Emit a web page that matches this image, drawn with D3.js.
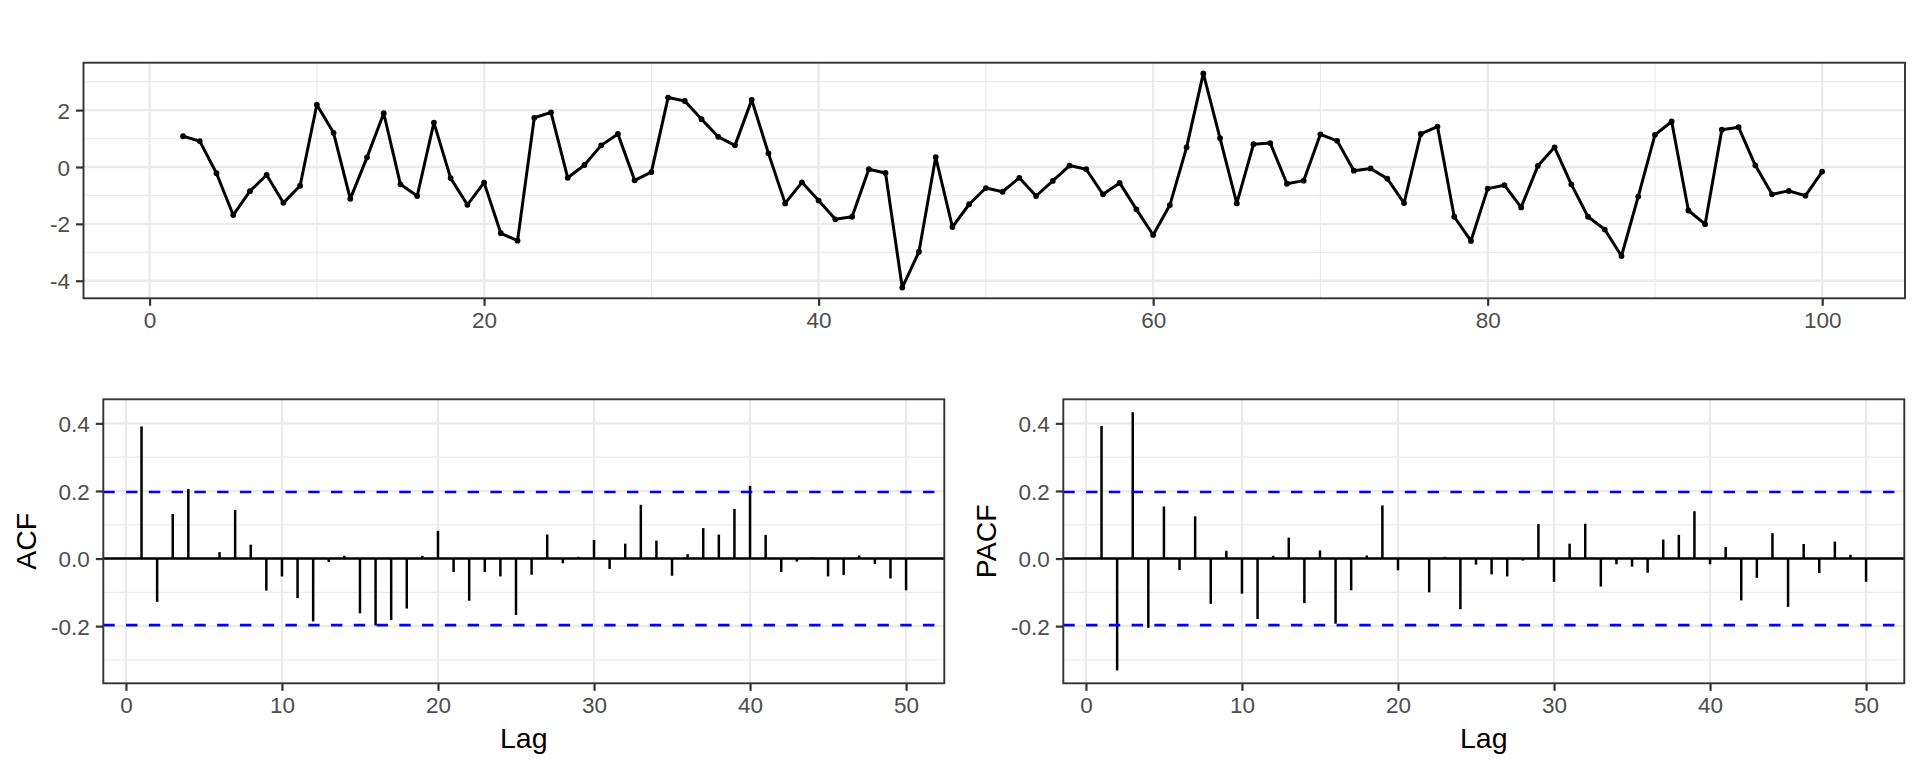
<!DOCTYPE html>
<html>
<head>
<meta charset="utf-8">
<script src="https://cdn.jsdelivr.net/npm/d3@7"></script>
<style>
  html, body { margin: 0; padding: 0; background: #fff; }
  svg { display: block; }
  text { font-family: "Liberation Sans", Arial, Helvetica, sans-serif; }
</style>
</head>
<body>
<svg id="chart" width="1920" height="768"></svg>
<script>
// ---------------- data ----------------
const tsTimeRange = [1, 100];   // series runs t = 1..100, first value missing
const tsStart = 2;
const tsValues = [
  1.08, 0.91, -0.22, -1.69, -0.85, -0.28, -1.26, -0.66, 2.19,          // t 2-10
  1.20, -1.12, 0.34, 1.89, -0.61, -1.02, 1.56, -0.39, -1.33, -0.55,    // 11-20
  -2.33, -2.59, 1.73, 1.92, -0.38, 0.07, 0.76, 1.16, -0.47, -0.18,     // 21-30
  2.44, 2.32, 1.68, 1.06, 0.76, 2.36, 0.48, -1.28, -0.54, -1.18,       // 31-40
  -1.84, -1.75, -0.08, -0.21, -4.24, -2.98, 0.35, -2.11, -1.31, -0.74, // 41-50
  -0.87, -0.38, -1.02, -0.49, 0.05, -0.08, -0.96, -0.56, -1.49, -2.39, // 51-60
  -1.34, 0.69, 3.29, 1.01, -1.28, 0.80, 0.84, -0.59, -0.48, 1.15,      // 61-70
  0.92, -0.13, -0.05, -0.41, -1.27, 1.16, 1.42, -1.75, -2.60, -0.76,   // 71-80
  -0.64, -1.42, 0.04, 0.69, -0.61, -1.75, -2.20, -3.13, -1.04, 1.13,   // 81-90
  1.60, -1.53, -2.01, 1.31, 1.40, 0.06, -0.96, -0.84, -1.01, -0.16     // 91-100
];
const tsXBreaks = [0, 20, 40, 60, 80, 100];
const tsXMinor = [10, 30, 50, 70, 90];
const tsYBreaks = [-4, -2, 0, 2];
const tsYMinor = [-3, -1, 1, 3];

const acfValues = [
  0.391, -0.128, 0.132, 0.206, 0.002, 0.019, 0.144, 0.041, -0.095, -0.053,
  -0.117, -0.186, -0.010, 0.008, -0.162, -0.198, -0.182, -0.148, 0.008, 0.082,
  -0.040, -0.125, -0.040, -0.053, -0.167, -0.048, 0.071, -0.014, 0.005, 0.055,
  -0.031, 0.044, 0.159, 0.053, -0.051, 0.013, 0.090, 0.071, 0.147, 0.215,
  0.070, -0.040, -0.009, 0.004, -0.053, -0.049, 0.009, -0.016, -0.059, -0.094
];
const pacfValues = [
  0.392, -0.331, 0.433, -0.205, 0.154, -0.034, 0.125, -0.134, 0.023, -0.104,
  -0.179, 0.008, 0.062, -0.132, 0.024, -0.193, -0.094, 0.009, 0.157, -0.035,
  -0.002, -0.100, 0.005, -0.150, -0.018, -0.047, -0.053, -0.006, 0.102, -0.069,
  0.044, 0.103, -0.083, -0.017, -0.024, -0.042, 0.056, 0.070, 0.140, -0.017,
  0.034, -0.124, -0.057, 0.075, -0.143, 0.043, -0.043, 0.050, 0.011, -0.069
];
const ciLimit = 0.197;  // 1.96 / sqrt(99)
const lagXBreaks = [0, 10, 20, 30, 40, 50];
const lagYBreaks = [-0.2, 0.0, 0.2, 0.4];
const lagYMinor = [-0.3, -0.1, 0.1, 0.3];

// ---------------- helpers ----------------
const svg = d3.select("#chart");
const GRID = "#EBEBEB", BORDER = "#333333", TICKTXT = "#4D4D4D";
const TICKFONT = 22.5, TITLEFONT = 28.5, TICKLEN = 7.5;

function expand(ext) {
  const r = ext[1] - ext[0];
  return [ext[0] - 0.05 * r, ext[1] + 0.05 * r];
}

function panel(g, box, x, y, opts) {
  const grid = g.append("g");
  (opts.yMinor || []).forEach(v => grid.append("line")
    .attr("x1", box.l).attr("x2", box.r).attr("y1", y(v)).attr("y2", y(v))
    .attr("stroke", GRID).attr("stroke-width", 1.2));
  (opts.xMinor || []).forEach(v => grid.append("line")
    .attr("y1", box.t).attr("y2", box.b).attr("x1", x(v)).attr("x2", x(v))
    .attr("stroke", GRID).attr("stroke-width", 1.2));
  opts.yBreaks.forEach(v => grid.append("line")
    .attr("x1", box.l).attr("x2", box.r).attr("y1", y(v)).attr("y2", y(v))
    .attr("stroke", GRID).attr("stroke-width", 2.4));
  opts.xBreaks.forEach(v => grid.append("line")
    .attr("y1", box.t).attr("y2", box.b).attr("x1", x(v)).attr("x2", x(v))
    .attr("stroke", GRID).attr("stroke-width", 2.4));
}

function axesAndBorder(g, box, x, y, opts) {
  const xAxis = d3.axisBottom(x).tickValues(opts.xBreaks).tickSize(TICKLEN).tickPadding(6)
    .tickFormat(opts.xFmt);
  const yAxis = d3.axisLeft(y).tickValues(opts.yBreaks).tickSize(TICKLEN).tickPadding(6)
    .tickFormat(opts.yFmt);
  const gx = g.append("g").attr("transform", `translate(0,${box.b})`).call(xAxis);
  const gy = g.append("g").attr("transform", `translate(${box.l},0)`).call(yAxis);
  [gx, gy].forEach(a => {
    a.select(".domain").remove();
    a.selectAll(".tick line").attr("stroke", BORDER).attr("stroke-width", 2.2);
    a.selectAll(".tick text").attr("fill", TICKTXT).style("font-size", TICKFONT + "px")
      .style("font-family", '"Liberation Sans", Arial, sans-serif');
  });
  gy.selectAll(".tick text").attr("dy", "0.36em");
  gx.selectAll(".tick text").attr("dy", "0.74em");
  g.append("rect").attr("x", box.l).attr("y", box.t)
    .attr("width", box.r - box.l).attr("height", box.b - box.t)
    .attr("fill", "none").attr("stroke", BORDER).attr("stroke-width", 1.9);
}

// ---------------- top panel: series ----------------
{
  const box = { l: 83.5, r: 1905, t: 62.7, b: 298.3 };
  const pts = tsValues.map((v, i) => ({ t: tsStart + i, v }));
  const x = d3.scaleLinear().domain(expand(tsTimeRange)).range([box.l, box.r]);
  const y = d3.scaleLinear().domain(expand(d3.extent(tsValues))).range([box.b, box.t]);
  const g = svg.append("g");
  panel(g, box, x, y, { xBreaks: tsXBreaks, xMinor: tsXMinor, yBreaks: tsYBreaks, yMinor: tsYMinor });
  const line = d3.line().x(d => x(d.t)).y(d => y(d.v));
  g.append("path").datum(pts).attr("d", line).attr("fill", "none")
    .attr("stroke", "#000").attr("stroke-width", 3).attr("stroke-linejoin", "round");
  g.selectAll("circle.pt").data(pts).enter().append("circle")
    .attr("cx", d => x(d.t)).attr("cy", d => y(d.v)).attr("r", 2.9).attr("fill", "#000");
  axesAndBorder(g, box, x, y, { xBreaks: tsXBreaks, yBreaks: tsYBreaks,
    xFmt: d3.format("d"), yFmt: d => (d < 0 ? "-" : "") + Math.abs(d) });
}

// ---------------- bottom panels: ACF / PACF ----------------
const lagYDomain = expand(d3.extent(acfValues.concat(pacfValues)));
function corrPanel(vals, box, label, titleX) {
  const lags = vals.map((v, i) => ({ lag: i + 1, v }));
  const x = d3.scaleLinear().domain(expand([1, vals.length])).range([box.l, box.r]);
  const y = d3.scaleLinear().domain(lagYDomain).range([box.b, box.t]);
  const g = svg.append("g");
  panel(g, box, x, y, { xBreaks: lagXBreaks, yBreaks: lagYBreaks, yMinor: lagYMinor });
  g.append("line").attr("x1", box.l).attr("x2", box.r).attr("y1", y(0)).attr("y2", y(0))
    .attr("stroke", "#000").attr("stroke-width", 2.6);
  g.selectAll("line.seg").data(lags).enter().append("line")
    .attr("x1", d => x(d.lag)).attr("x2", d => x(d.lag))
    .attr("y1", y(0)).attr("y2", d => y(d.v))
    .attr("stroke", "#000").attr("stroke-width", 2.5);
  [ciLimit, -ciLimit].forEach(c => g.append("line")
    .attr("x1", box.l).attr("x2", box.r).attr("y1", y(c)).attr("y2", y(c))
    .attr("stroke", "#0000FF").attr("stroke-width", 2.6).attr("stroke-dasharray", "11.4,11.37"));
  axesAndBorder(g, box, x, y, { xBreaks: lagXBreaks, yBreaks: lagYBreaks,
    xFmt: d3.format("d"), yFmt: d => (d < 0 ? "-" : "") + Math.abs(d).toFixed(1) });
  g.append("text").attr("x", (box.l + box.r) / 2).attr("y", 748.3)
    .attr("text-anchor", "middle").attr("fill", "#000").style("font-size", TITLEFONT + "px").text("Lag");
  g.append("text").attr("transform", `translate(${titleX},${(box.t + box.b) / 2}) rotate(-90)`)
    .attr("text-anchor", "middle").attr("fill", "#000").style("font-size", TITLEFONT + "px").text(label);
}
corrPanel(acfValues, { l: 103.3, r: 944.3, t: 399.3, b: 683.3 }, "ACF", 36);
corrPanel(pacfValues, { l: 1063.3, r: 1904.3, t: 399.3, b: 683.3 }, "PACF", 996);
</script>
</body>
</html>
